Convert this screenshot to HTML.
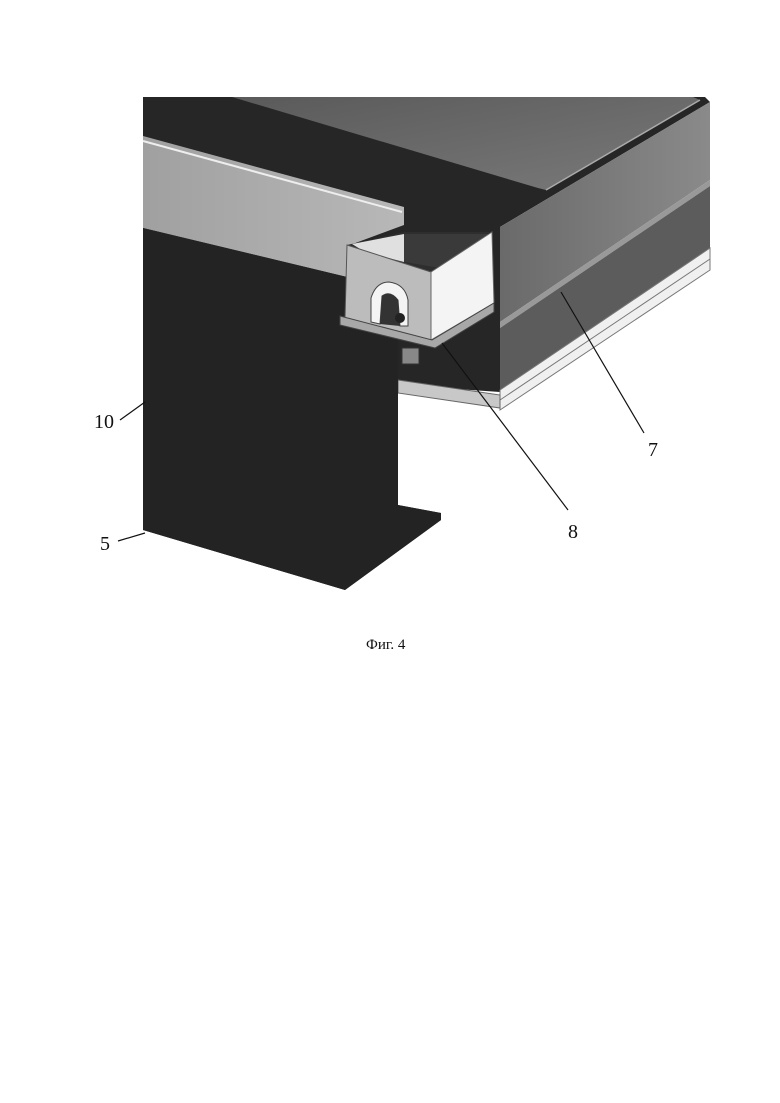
<!DOCTYPE html>
<html><head><style>
html,body{margin:0;padding:0;background:#fff;}
svg{display:block;}
text{font-family:"Liberation Serif",serif;fill:#111;}
</style></head><body>
<svg width="780" height="1103" viewBox="0 0 780 1103" xmlns="http://www.w3.org/2000/svg">
<defs>
<linearGradient id="plate" x1="0" y1="0" x2="1" y2="1">
<stop offset="0" stop-color="#5a5a5a"/><stop offset="1" stop-color="#7a7a7a"/></linearGradient>
<linearGradient id="beam" x1="0" y1="0" x2="1" y2="0">
<stop offset="0" stop-color="#6a6a6a"/><stop offset="1" stop-color="#8a8a8a"/></linearGradient>
<linearGradient id="chan" x1="0" y1="0" x2="1" y2="0">
<stop offset="0" stop-color="#a0a0a0"/><stop offset="1" stop-color="#b8b8b8"/></linearGradient>
</defs>
<polygon points="143,97 705,97 710,102 500,227 500,392 398,385 398,505 441,513 441,520 345,590 143,530" fill="#262626"/>
<polygon points="232,97 693,97 700,100 546,190 538,188" fill="url(#plate)"/>
<line x1="546" y1="190" x2="700" y2="100" stroke="#aaa" stroke-width="1.5"/>
<polygon points="500,227 710,102 710,180 500,322" fill="url(#beam)"/>
<polygon points="500,322 710,180 710,186 500,328" fill="#999"/>
<polygon points="500,328 710,186 710,248 500,390" fill="#5c5c5c"/>
<polygon points="500,390 710,248 710,270 500,410" fill="#f0f0f0" stroke="#777" stroke-width="1"/>
<line x1="500" y1="400" x2="710" y2="259" stroke="#777"/>
<polygon points="398,380 500,395 500,408 398,393" fill="#c8c8c8" stroke="#666" stroke-width="1"/>
<polygon points="143,136 404,207 404,225 350,245 347,277 143,228" fill="url(#chan)"/>
<line x1="143" y1="141" x2="402" y2="212" stroke="#eee" stroke-width="2"/>
<polygon points="143,228 347,277 398,300 398,505 441,513 441,520 345,590 143,530" fill="#232323"/>
<!-- bracket -->
<polygon points="347,245 404,232 490,232 431,272" fill="#2e2e2e"/>
<polygon points="352,244 404,234 404,262 365,252" fill="#e0e0e0"/>
<polygon points="404,234 488,234 440,268 404,262" fill="#3a3a3a"/>
<polygon points="347,245 431,272 431,340 345,318" fill="#bcbcbc" stroke="#555" stroke-width="1"/>
<polygon points="431,272 492,232 494,303 431,340" fill="#f4f4f4" stroke="#666" stroke-width="1"/>
<polygon points="340,316 432,340 494,303 494,312 435,348 340,325" fill="#a8a8a8" stroke="#444" stroke-width="1"/>
<path d="M371,322 L371,298 Q376,282 389,282 Q405,284 408,300 L408,326 L400,326 L398,300 Q390,290 382,296 L380,324 Z" fill="#f4f4f4" stroke="#444"/>
<path d="M380,324 L382,296 Q390,290 398,300 L400,326 Z" fill="#333"/>
<circle cx="400" cy="318" r="5" fill="#222"/>
<rect x="402" y="348" width="17" height="16" fill="#888" stroke="#333"/>
<g stroke="#111" stroke-width="1.2" fill="none">
<line x1="120" y1="420" x2="145" y2="402"/>
<line x1="118" y1="541" x2="145" y2="533"/>
<line x1="568" y1="510" x2="442" y2="343"/>
<line x1="644" y1="433" x2="561" y2="292"/>
</g>
<text x="94" y="428" font-size="20">10</text>
<text x="100" y="550" font-size="20">5</text>
<text x="568" y="538" font-size="20">8</text>
<text x="648" y="456" font-size="20">7</text>
<text x="366" y="649" font-size="15">Фиг. 4</text>
</svg>
</body></html>
